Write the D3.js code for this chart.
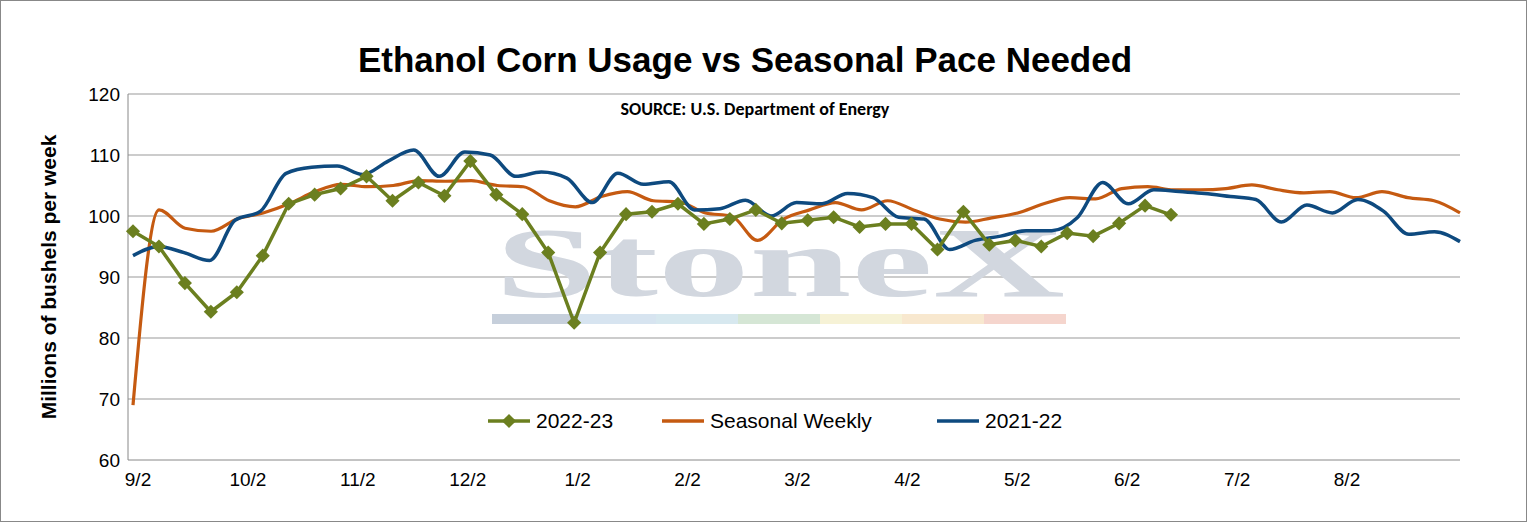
<!DOCTYPE html><html><head><meta charset="utf-8"><script src="https://cdn.jsdelivr.net/npm/d3@7"></script>
<style>body{margin:0;background:#fff}</style></head><body><svg id="c" width="1527" height="522"></svg>
<script>
const yTicks=[60,70,80,90,100,110,120];
const xTickLabels=["9/2","10/2","11/2","12/2","1/2","2/2","3/2","4/2","5/2","6/2","7/2","8/2"];
const s2223=[97.5,95,89,84.3,87.5,93.5,102,103.5,104.5,106.5,102.5,105.5,103.3,109,103.5,100.3,94,82.5,94,100.3,100.7,102,98.7,99.5,101,98.8,99.3,99.8,98.2,98.7,98.7,94.5,100.7,95.3,96,95,97.2,96.7,98.8,101.7,100.2];
const s2122=[93.5,95,94,92.7,99.3,100.8,107,108,108.2,106.8,109,110.8,106.5,110.5,110,106.5,107.2,106.2,102.2,107,105.2,105.6,101,101.2,102.6,100,102.2,102,103.7,103,99.8,99.5,94.5,96,96.7,97.6,97.6,99.7,105.5,102,104.3,104,103.7,103.2,102.7,99,101.8,100.5,102.7,100.8,97,97.4,95.8];
const seasonal=[69,101,98,97.5,99.5,100.5,102,104,105.2,104.8,105,105.8,105.7,105.8,105,104.8,102.5,101.5,103.2,104,102.5,102.3,100.5,100,96,99.5,101,102.2,101,102.5,101,99.5,99,99.7,100.5,102,103,102.8,104.5,104.8,104.3,104.3,104.5,105.1,104.3,103.8,104,103,104,103,102.5,100.5];
const svg=d3.select("#c");
svg.append("rect").attr("x",0.5).attr("y",0.5).attr("width",1526).attr("height",521).attr("fill","#fff").attr("stroke","#888");
const L=128,R=1460,T=94,B=460;
const x=d3.scaleLinear().domain([0,52]).range([133,R]);
const xg=d3.scaleLinear().domain([0,40]).range([133,1171]);
const xs=d3.scaleLinear().domain([0,51]).range([133,R]);
const xm=d3.scaleLinear().domain([0,11]).range([138,1347]);
const y=d3.scaleLinear().domain([60,120]).range([B,T]);
yTicks.forEach(t=>{svg.append("line").attr("x1",L).attr("x2",R).attr("y1",y(t)).attr("y2",y(t)).attr("stroke",t==60?"#888":"#999").attr("stroke-width",1);
svg.append("text").attr("x",L-8).attr("y",y(t)+7).attr("text-anchor","end").attr("font-family","Arial, Liberation Sans").attr("font-size",19).text(t);});
svg.append("line").attr("x1",L).attr("x2",L).attr("y1",T).attr("y2",B).attr("stroke","#888");
svg.append("text").attr("x",495).attr("y",296).attr("font-family","Liberation Serif, serif").attr("font-weight","bold").attr("font-size",100).attr("fill","#d2d7df").attr("textLength",570).attr("lengthAdjust","spacingAndGlyphs").text("StoneX");
const wc=["#c6cfdb","#d7e4f0","#d7e8ef","#d5e6d5","#f6f2d6","#f8e8cf","#f5d5cd"];
wc.forEach((c,i)=>svg.append("rect").attr("x",492+i*82).attr("y",314).attr("width",82).attr("height",10).attr("fill",c));
xTickLabels.forEach((t,i)=>svg.append("text").attr("x",xm(i)).attr("y",B+26).attr("text-anchor","middle").attr("font-family","Arial, Liberation Sans").attr("font-size",19).text(t));
const line=(sc)=>d3.line().x((d,i)=>sc(i)).y(d=>y(d));
svg.append("path").attr("d",line(xs).curve(d3.curveMonotoneX)(seasonal)).attr("fill","none").attr("stroke","#c55a11").attr("stroke-width",3.2);
svg.append("path").attr("d",line(x).curve(d3.curveMonotoneX)(s2122)).attr("fill","none").attr("stroke","#0e4a7f").attr("stroke-width",3.5);
svg.append("path").attr("d",line(xg)(s2223)).attr("fill","none").attr("stroke","#6b7f1f").attr("stroke-width",3.5);
s2223.forEach((d,i)=>svg.append("rect").attr("x",-5).attr("y",-5).attr("width",10).attr("height",10).attr("fill","#6b7f1f").attr("transform",`translate(${xg(i)},${y(d)}) rotate(45)`));
svg.append("text").attr("x",745).attr("y",72).attr("text-anchor","middle").attr("font-family","Arial, Liberation Sans").attr("font-weight","bold").attr("font-size",35).text("Ethanol Corn Usage vs Seasonal Pace Needed");
svg.append("text").attr("x",755).attr("y",115).attr("text-anchor","middle").attr("font-family","Calibri, Carlito, Liberation Sans").attr("font-weight","bold").attr("font-size",18).text("SOURCE: U.S. Department of Energy");
svg.append("text").attr("transform","translate(56,277) rotate(-90)").attr("text-anchor","middle").attr("font-family","Arial, Liberation Sans").attr("font-weight","bold").attr("font-size",21).text("Millions of bushels per week");
const lg=[{n:"2022-23",c:"#6b7f1f",m:true,x:488},{n:"Seasonal Weekly",c:"#c55a11",x:662},{n:"2021-22",c:"#0e4a7f",x:937}];
lg.forEach(l=>{svg.append("line").attr("x1",l.x).attr("x2",l.x+42).attr("y1",421).attr("y2",421).attr("stroke",l.c).attr("stroke-width",3.5);
if(l.m)svg.append("rect").attr("x",-5).attr("y",-5).attr("width",10).attr("height",10).attr("fill",l.c).attr("transform",`translate(${l.x+21},421) rotate(45)`);
svg.append("text").attr("x",l.x+48).attr("y",428).attr("font-family","Arial, Liberation Sans").attr("font-size",21).text(l.n);});
</script></body></html>
